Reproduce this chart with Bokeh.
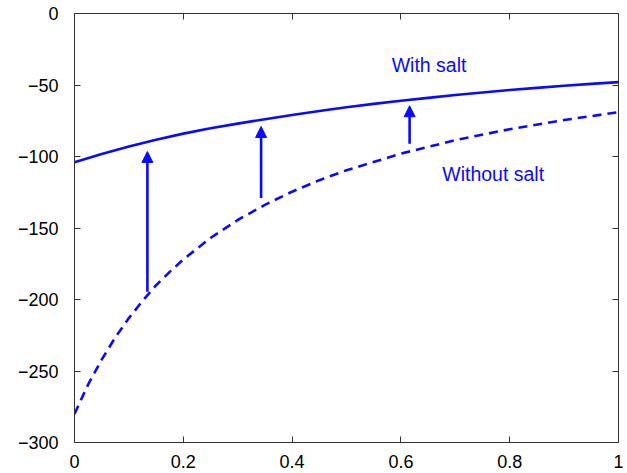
from bokeh.plotting import figure
from bokeh.models import (ColumnDataSource, Arrow, NormalHead, Label, LinearAxis,
                          FixedTicker, Range1d)
from bokeh.embed import file_html
from bokeh.resources import INLINE

# ---- data ----
x_with = [0.0, 0.05, 0.1, 0.15, 0.2, 0.25, 0.3, 0.35, 0.4, 0.45, 0.5,
          0.55, 0.6, 0.65, 0.7, 0.75, 0.8, 0.85, 0.9, 0.95, 1.0]
y_with = [-104, -98.3, -93, -88.3, -84, -80.3, -77, -73.9, -71, -68.2, -65.6,
          -63.2, -61, -59, -57, -55.2, -53.5, -52, -50.5, -49.2, -48]

x_without = [0.0, 0.025, 0.05, 0.075, 0.1, 0.125, 0.15, 0.175, 0.2, 0.25, 0.3,
             0.35, 0.4, 0.45, 0.5, 0.6, 0.7, 0.8, 0.9, 1.0]
y_without = [-280, -259.5, -242, -226.5, -213, -201, -190, -180.7, -172, -157, -144.4,
             -133.8, -124.6, -116.6, -109.6, -98, -88.6, -80.9, -74.5, -69]

arrow_x = [0.134, 0.343, 0.616]
arrow_y_start = [-194.5, -129, -91]
arrow_y_end = [-96.5, -79, -64.5]

x_ticks = [0, 0.2, 0.4, 0.6, 0.8, 1]
x_tick_labels = ["0", "0.2", "0.4", "0.6", "0.8", "1"]
y_ticks = [0, -50, -100, -150, -200, -250, -300]
y_tick_labels = ["0", "\u221250", "\u2212100", "\u2212150", "\u2212200", "\u2212250", "\u2212300"]

label_with = "With salt"
label_without = "Without salt"

BLUE = "#0a0aff"
FONT = "Liberation Sans"

p = figure(width=627, height=473, output_backend="svg", toolbar_location=None,
           x_range=Range1d(0, 1), y_range=Range1d(-300, 0),
           min_border_left=74, min_border_right=9, min_border_top=13, min_border_bottom=31,
           x_axis_location=None, y_axis_location=None)
p.grid.visible = False
p.outline_line_color = "#333333"
p.outline_line_width = 1
p.background_fill_color = "white"
p.border_fill_color = "white"

def style_axis(ax, ticks, labels, show_labels):
    ax.ticker = FixedTicker(ticks=ticks)
    ax.minor_tick_line_color = None
    ax.major_tick_in = 6
    ax.major_tick_out = 0
    ax.major_tick_line_color = "#333333"
    ax.major_tick_line_width = 1
    ax.axis_line_color = "#333333"
    ax.axis_line_width = 1
    ax.major_label_text_font = FONT
    if show_labels:
        ax.major_label_overrides = {t: l for t, l in zip(ticks, labels)}
        ax.major_label_text_color = "black"
        ax.major_label_text_font_size = "18px"
    else:
        # tick marks only: the labels are not drawn at all
        ax.major_label_text_color = None
        ax.major_label_text_font_size = "1px"
        ax.major_label_standoff = 0

bx = LinearAxis(); style_axis(bx, x_ticks, x_tick_labels, True); bx.major_label_standoff = 12
lx = LinearAxis(); style_axis(lx, y_ticks, y_tick_labels, True); lx.major_label_standoff = 16
tx = LinearAxis(); style_axis(tx, x_ticks, x_tick_labels, False)
rx = LinearAxis(); style_axis(rx, y_ticks, y_tick_labels, False)
p.add_layout(bx, "below")
p.add_layout(lx, "left")
p.add_layout(tx, "above")
p.add_layout(rx, "right")

src_with = ColumnDataSource(dict(x=x_with, y=y_with))
src_without = ColumnDataSource(dict(x=x_without, y=y_without))
p.line("x", "y", source=src_with, line_color=BLUE, line_width=2.6)
p.line("x", "y", source=src_without, line_color=BLUE, line_width=2.6, line_dash="9 6")

src_arrows = ColumnDataSource(dict(x=arrow_x, y0=arrow_y_start, y1=arrow_y_end))
p.add_layout(Arrow(source=src_arrows, x_start="x", y_start="y0", x_end="x", y_end="y1",
                   line_color=BLUE, line_width=2.6,
                   end=NormalHead(size=11, fill_color=BLUE, line_color=BLUE, line_width=1)))

p.add_layout(Label(x=0.583, y=-36, text=label_with, text_font=FONT, text_font_size="19.5px",
                   text_color=BLUE, text_baseline="alphabetic", text_align="left"))
p.add_layout(Label(x=0.676, y=-112, text=label_without, text_font=FONT, text_font_size="19.5px",
                   text_color=BLUE, text_baseline="alphabetic", text_align="left"))

open("out.html", "w").write(file_html(p, INLINE))
